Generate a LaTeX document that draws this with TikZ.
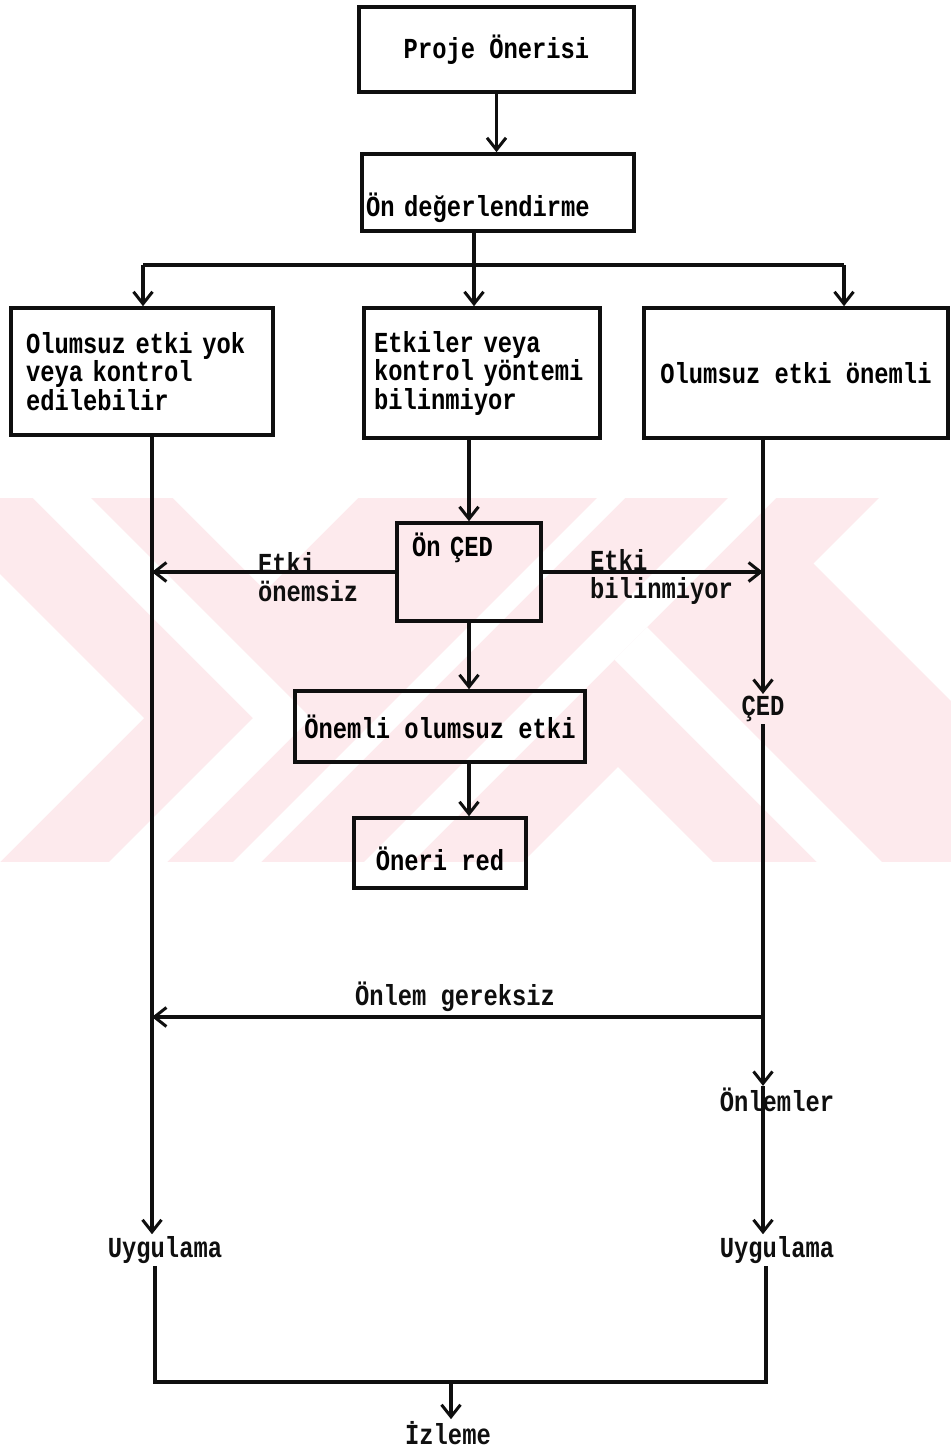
\documentclass[tikz,border=0pt]{standalone}
\usepackage{fontspec}
\usepackage{xcolor}
\usepackage{tikz}
\usetikzlibrary{arrows.meta, positioning}
\newfontfamily\typew{Liberation Mono}[FakeStretch=0.82]
\definecolor{inkline}{RGB}{15, 15, 15}
\definecolor{yokpink}{RGB}{253, 234, 237}

\begin{document}
\begin{tikzpicture}[
    x=1pt, y=-1pt,
    font=\typew\bfseries\fontsize{29pt}{28.5pt}\selectfont,
    box/.style={draw=inkline, line width=3.6pt, inner sep=0pt},
    tag/.style={inner sep=2pt, align=left, text=inkline},
    link/.style={draw=inkline, line width=3.4pt},
    flow/.style={link, -{Straight Barb[length=12pt, width=19pt, line width=3pt]}}
]
    \useasboundingbox (0,0) rectangle (951,1451);

    % watermark in the background
    \fill[yokpink] (0,498) rectangle (951,862);
    \fill[white] (0,574) -- (144,718) -- (0,862) -- cycle;
    \fill[white] (33,498) -- (91,498) -- (311,718) -- (167,862) -- (109,862) -- (253,718) -- cycle;
    \fill[white] (173,498) -- (358,498) -- (265.5,590.5) -- cycle;
    \fill[white] (597,498) -- (625,498) -- (261,862) -- (233,862) -- cycle;
    \fill[white] (728,498) -- (776,498) -- (412,862) -- (364,862) -- cycle;
    \fill[white] (879,498) -- (951,498) -- (951,701) -- (813.5,563.5) -- cycle;
    \fill[white] (647,627) -- (882,862) -- (817,862) -- (614.5,659.5) -- cycle;
    \fill[white] (618,767) -- (713,862) -- (523,862) -- cycle;

    % boxes
    \node[box, minimum width=275pt, minimum height=85pt] (proje) at (496.5,49.5) {Proje Önerisi};
    \node[box, minimum width=272pt, minimum height=77pt, text width=264pt, inner xsep=4pt, align=left, text height=55pt, text depth=7pt] (ondeg) at (498,192.5) {Ön değerlendirme};
    \node[box, minimum width=262pt, minimum height=127pt, text width=232pt, inner xsep=15pt, align=left] (nokontrol) at (142,371.5) {Olumsuz etki yok\\veya kontrol\\edilebilir};
    \node[box, minimum width=236pt, minimum height=130pt, text width=216pt, inner xsep=10pt, align=left] (bilinmez) at (482,373) {Etkiler veya\\kontrol yöntemi\\bilinmiyor};
    \node[box, minimum width=304pt, minimum height=130pt] (olumsuz) at (796,373) {Olumsuz etki önemli};
    \node[box, minimum width=144pt, minimum height=98pt, text width=114pt, inner xsep=15pt, align=left, text height=20pt, text depth=52pt] (onced) at (469,572) {Ön ÇED};
    \node[box, minimum width=290pt, minimum height=71pt] (onemli) at (440,726.5) {Önemli olumsuz etki};
    \node[box, minimum width=172pt, minimum height=70pt, text height=41pt, text depth=7pt] (red) at (440,853) {Öneri red};

    % free texts
    \node[tag] (ced) at (763,709) {ÇED};
    \node[tag] (onl) at (777,1100) {Önlemler};
    \node[tag] (uygL) at (165,1250) {Uygulama};
    \node[tag] (uygR) at (777,1250) {Uygulama};
    \node[tag] (izl) at (448,1433) {İzleme};
    \node[tag, anchor=west] (lblA) at (256,577) {Etki\\önemsiz};
    \node[tag, anchor=west] (lblB) at (588,577) {Etki\\bilinmiyor};
    \node[tag] (lblC) at (455,997) {Önlem gereksiz};

    % junctions
    \coordinate (colL) at (152,0);
    \coordinate (colM) at (469,0);
    \coordinate (colR) at (763,0);
    \coordinate (splitL) at (143,265);
    \coordinate (splitM) at (474,265);
    \coordinate (splitR) at (844,265);
    \coordinate (jR) at (763,1017);
    \coordinate (jBL) at (155,1382);
    \coordinate (jBM) at (451,1382);
    \coordinate (jBR) at (766,1382);

    % connections
    \draw[flow] (proje.south) -- (proje.south |- ondeg.north);
    \draw[link] (ondeg.south -| splitM) -- (splitM);
    \draw[link] (splitL) -- (splitR);
    \draw[flow] (splitL) -- (splitL |- nokontrol.north);
    \draw[flow] (splitM) -- (splitM |- bilinmez.north);
    \draw[flow] (splitR) -- (splitR |- olumsuz.north);
    \draw[flow] (nokontrol.south -| colL) -- (uygL.north -| colL);
    \draw[flow] (bilinmez.south -| colM) -- (onced.north -| colM);
    \draw[flow] (onced.west) -- (onced.west -| colL);
    \draw[flow] (onced.east) -- (onced.east -| colR);
    \draw[flow] (onced.south -| colM) -- (onemli.north -| colM);
    \draw[flow] (onemli.south -| colM) -- (red.north -| colM);
    \draw[flow] (olumsuz.south -| colR) -- (ced.north -| colR);
    \draw[link] (ced.south -| colR) -- (jR);
    \draw[flow] (jR) -- (jR -| colL);
    \draw[flow] (jR) -- (onl.north -| colR);
    \draw[flow] (onl.north -| colR) -- (uygR.north -| colR);
    \draw[link] (uygL.south -| jBL) -- (jBL) -- (jBR) -- (uygR.south -| jBR);
    \draw[flow] (jBM) -- (izl.north -| jBM);
\end{tikzpicture}
\end{document}
